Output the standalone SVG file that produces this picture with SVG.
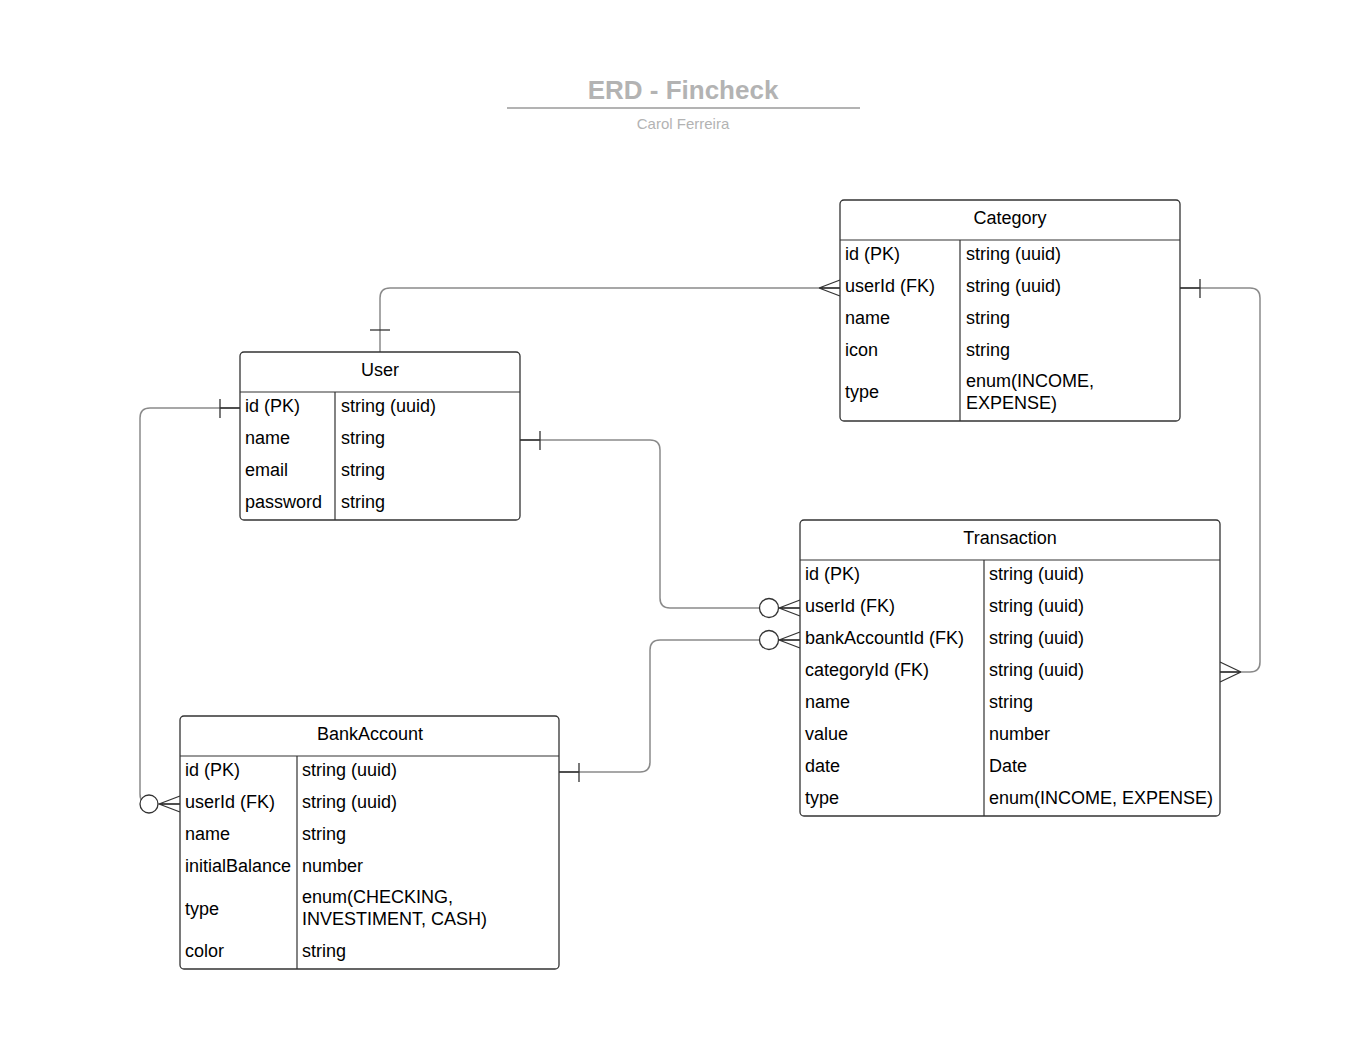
<svg xmlns="http://www.w3.org/2000/svg" width="1360" height="1051" viewBox="0 0 1360 1051">
<style>
text{font-family:"Liberation Sans",Arial,sans-serif;fill:#000}
.t{font-size:18px}
.h{font-size:18px;text-anchor:middle}
.box{fill:#fff;stroke:#333;stroke-width:1.3}
.ln{stroke:#333;stroke-width:1.2;fill:none}
.c{stroke:#8a8a8a;stroke-width:1.5;fill:none}
.m{stroke:#333;stroke-width:1.3;fill:none}
.mc{stroke:#333;stroke-width:1.3;fill:#fff}
</style>
<rect width="1360" height="1051" fill="#fff"/>
<g id="title">
<text x="683" y="99" text-anchor="middle" style="font-size:26px;font-weight:bold;fill:#b3b3b3">ERD - Fincheck</text>
<line x1="507" y1="108" x2="860" y2="108" stroke="#b3b3b3" stroke-width="2"/>
<text x="683" y="129" text-anchor="middle" style="font-size:15px;fill:#b3b3b3">Carol Ferreira</text>
</g>
<g id="connectors">
<path class="c" d="M840 288 H390 Q380 288 380 298 V352"/>
<path class="m" d="M370 330 H390"/>
<path class="m" d="M840 288 H819 M819 288 L840 280 M819 288 L840 296"/>
<path class="c" d="M240 408 H150 Q140 408 140 418 V794 Q140 804 150 804 H180"/>
<path class="m" d="M220 399 V418 M220 408 H240"/>
<path class="m" d="M159 804 L180 796 M159 804 L180 812 M159 804 H180"/>
<circle class="mc" cx="149" cy="804" r="9"/>
<path class="c" d="M520 440 H650 Q660 440 660 450 V598 Q660 608 670 608 H800"/>
<path class="m" d="M540 431 V450 M520 440 H540"/>
<path class="m" d="M779 608 L800 600 M779 608 L800 616 M779 608 H800"/>
<circle class="mc" cx="769" cy="608" r="9.5"/>
<path class="c" d="M559 772 H640 Q650 772 650 762 V650 Q650 640 660 640 H800"/>
<path class="m" d="M579 763 V782 M559 772 H579"/>
<path class="m" d="M779 640 L800 632 M779 640 L800 648 M779 640 H800"/>
<circle class="mc" cx="769" cy="640" r="9.5"/>
<path class="c" d="M1180 288 H1250 Q1260 288 1260 298 V662 Q1260 672 1250 672 H1220"/>
<path class="m" d="M1200 279 V298 M1180 288 H1200"/>
<path class="m" d="M1241 672 L1220 662 M1241 672 L1220 682 M1241 672 H1220"/>
</g>
<g id="category">
<rect class="box" x="840" y="200" width="340" height="221" rx="4"/>
<path class="ln" d="M840 240 H1180 M960 240 V421"/>
<text class="h" x="1010" y="224">Category</text>
<text class="t" x="845" y="260">id (PK)</text><text class="t" x="966" y="260">string (uuid)</text>
<text class="t" x="845" y="292">userId (FK)</text><text class="t" x="966" y="292">string (uuid)</text>
<text class="t" x="845" y="324">name</text><text class="t" x="966" y="324">string</text>
<text class="t" x="845" y="356">icon</text><text class="t" x="966" y="356">string</text>
<text class="t" x="845" y="398">type</text><text class="t" x="966" y="387">enum(INCOME,</text><text class="t" x="966" y="409">EXPENSE)</text>
</g>
<g id="user">
<rect class="box" x="240" y="352" width="280" height="168" rx="4"/>
<path class="ln" d="M240 392 H520 M335 392 V520"/>
<text class="h" x="380" y="376">User</text>
<text class="t" x="245" y="412">id (PK)</text><text class="t" x="341" y="412">string (uuid)</text>
<text class="t" x="245" y="444">name</text><text class="t" x="341" y="444">string</text>
<text class="t" x="245" y="476">email</text><text class="t" x="341" y="476">string</text>
<text class="t" x="245" y="508">password</text><text class="t" x="341" y="508">string</text>
</g>
<g id="transaction">
<rect class="box" x="800" y="520" width="420" height="296" rx="4"/>
<path class="ln" d="M800 560 H1220 M984 560 V816"/>
<text class="h" x="1010" y="544">Transaction</text>
<text class="t" x="805" y="580">id (PK)</text><text class="t" x="989" y="580">string (uuid)</text>
<text class="t" x="805" y="612">userId (FK)</text><text class="t" x="989" y="612">string (uuid)</text>
<text class="t" x="805" y="644">bankAccountId (FK)</text><text class="t" x="989" y="644">string (uuid)</text>
<text class="t" x="805" y="676">categoryId (FK)</text><text class="t" x="989" y="676">string (uuid)</text>
<text class="t" x="805" y="708">name</text><text class="t" x="989" y="708">string</text>
<text class="t" x="805" y="740">value</text><text class="t" x="989" y="740">number</text>
<text class="t" x="805" y="772">date</text><text class="t" x="989" y="772">Date</text>
<text class="t" x="805" y="804">type</text><text class="t" x="989" y="804">enum(INCOME, EXPENSE)</text>
</g>
<g id="bankaccount">
<rect class="box" x="180" y="716" width="379" height="253" rx="4"/>
<path class="ln" d="M180 756 H559 M297 756 V969"/>
<text class="h" x="370" y="740">BankAccount</text>
<text class="t" x="185" y="776">id (PK)</text><text class="t" x="302" y="776">string (uuid)</text>
<text class="t" x="185" y="808">userId (FK)</text><text class="t" x="302" y="808">string (uuid)</text>
<text class="t" x="185" y="840">name</text><text class="t" x="302" y="840">string</text>
<text class="t" x="185" y="872">initialBalance</text><text class="t" x="302" y="872">number</text>
<text class="t" x="185" y="915">type</text><text class="t" x="302" y="903">enum(CHECKING,</text><text class="t" x="302" y="925">INVESTIMENT, CASH)</text>
<text class="t" x="185" y="957">color</text><text class="t" x="302" y="957">string</text>
</g>
</svg>
